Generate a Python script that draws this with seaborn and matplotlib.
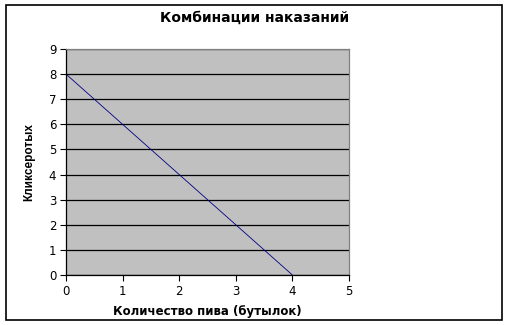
import matplotlib
matplotlib.use("Agg")
import matplotlib.pyplot as plt
import seaborn as sns
import pandas as pd
from matplotlib.patches import Rectangle

beer = [0, 4]
other = [8, 0]
x_ticks = [0, 1, 2, 3, 4, 5]
y_ticks = [0, 1, 2, 3, 4, 5, 6, 7, 8, 9]
title = "Комбинации наказаний"
xlabel = "Количество пива (бутылок)"
ylabel = "Кликсеротых"

sns.set_style("white")
plt.rcParams['font.family'] = ['Liberation Sans', 'DejaVu Sans']
plt.rcParams['text.color'] = 'black'
plt.rcParams['axes.labelcolor'] = 'black'
plt.rcParams['xtick.color'] = 'black'
plt.rcParams['ytick.color'] = 'black'

df = pd.DataFrame({"x": beer, "y": other})

fig = plt.figure(figsize=(5.1, 3.25), dpi=100)
ax = fig.add_axes([66/510, 1-275/325, (349-66)/510, (275-49)/325])
ax.set_facecolor("#C0C0C0")
sns.lineplot(data=df, x="x", y="y", ax=ax, color="#000080", linewidth=0.6)

ax.set_xlim(0, 5)
ax.set_ylim(0, 9)
ax.set_xticks(x_ticks)
ax.set_yticks(y_ticks)
ax.tick_params(axis="both", direction="out", length=4, width=0.8, labelsize=8.5,
               color="black", labelcolor="black", pad=3, left=True, bottom=True)
for lab in ax.get_xticklabels() + ax.get_yticklabels():
    lab.set_family(['DejaVu Sans'])
ax.yaxis.grid(True, color="black", linewidth=0.9)
ax.xaxis.grid(False)
ax.set_axisbelow(True)
for s in ["left", "bottom"]:
    ax.spines[s].set_color("black")
    ax.spines[s].set_linewidth(0.9)
for s in ["top", "right"]:
    ax.spines[s].set_color("#808080")
    ax.spines[s].set_linewidth(0.9)

ax.set_xlabel(xlabel, fontsize=8.5, fontweight="bold", labelpad=5, family=['DejaVu Sans'],
              color="black")
ax.set_ylabel(ylabel, fontsize=8.5, fontweight="bold", labelpad=10, color="black")
fig.text(0.5, 1-18/325, title, ha="center", va="center", fontsize=10, fontweight="bold",
         family=['DejaVu Sans'], color="black")

fig.patches.append(Rectangle((6/510, 1-320/325), 496/510, 315/325, transform=fig.transFigure,
                             fill=False, edgecolor="black", linewidth=1.2))

fig.savefig("out.png", dpi=100)
